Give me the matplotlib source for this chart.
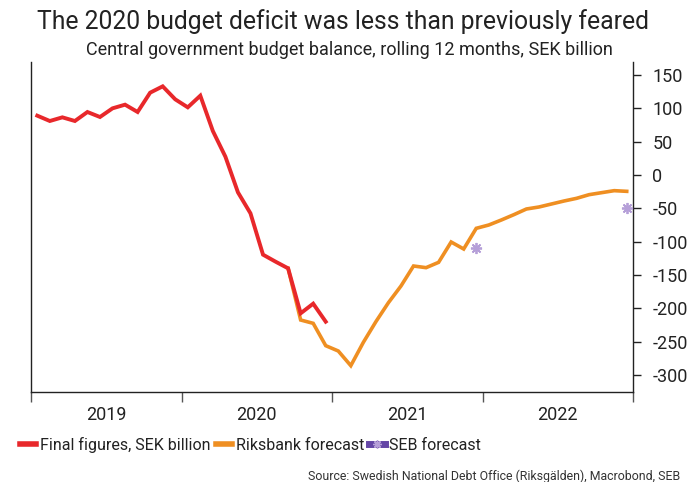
import matplotlib
matplotlib.use("Agg")
import matplotlib.pyplot as plt
from matplotlib.lines import Line2D
from matplotlib.legend_handler import HandlerTuple
import numpy as np

plt.rcParams['font.family'] = ['Roboto', 'DejaVu Sans']

years = ["2019", "2020", "2021", "2022"]

# Final figures Jan 2019 .. Dec 2020
final_vals = [89, 81, 86.5, 81, 94.5, 87, 100, 105.5, 94.5, 123.5, 133, 113.5,
              101.5, 119, 66, 27.5, -26, -57.5, -119.5, -130, -140, -207.5, -193, -220]
# Riksbank forecast Sep 2020 .. Dec 2022
riks_vals = [-140, -217.5, -222.5, -256, -264, -286, -251, -220, -191.5, -166.5,
             -136.5, -139, -131, -100.5, -111, -80, -75, -67.5, -59.5, -51, -48,
             -43.5, -39, -35, -29.5, -26.5, -23.5, -24.5]
# SEB forecast: Dec 2021, Dec 2022
seb_months = [35, 47]
seb_vals = [-110, -50]

def mpos(i):
    return 2019 + (i + 0.5) / 12.0

x_final = [mpos(i) for i in range(len(final_vals))]
x_riks = [mpos(20 + i) for i in range(len(riks_vals))]
x_seb = [mpos(i) for i in seb_months]

RED = '#e8282b'
ORANGE = '#ef8f22'
PURPLE_L = '#b59fd8'
PURPLE_D = '#6446a6'

fig = plt.figure(figsize=(6.87, 4.82), dpi=100)
ax = fig.add_axes([31/687, 1-392/482, (633-31)/687, (392-62)/482])

ax.plot(x_riks, riks_vals, color=ORANGE, lw=2.6, solid_joinstyle='miter', zorder=2)
ax.plot(x_final, final_vals, color=RED, lw=2.8, solid_joinstyle='miter', zorder=3)
ax.plot(x_seb, seb_vals, linestyle='none', marker=(8, 2, 0), markersize=8,
        markeredgewidth=1.3, color=PURPLE_L, zorder=4)

ax.set_xlim(2019.0, 2023.0)
ax.set_ylim(-325.5, 169.5)

ax.yaxis.tick_right()
ax.set_yticks(np.arange(-300, 151, 50))
ax.set_yticklabels([str(v) for v in np.arange(-300, 151, 50)])
ax.tick_params(axis='y', which='major', direction='out', length=6, width=1,
               labelsize=13, colors='#222222', pad=8)

ax.set_xticks([2019, 2020, 2021, 2022, 2023])
ax.set_xticklabels([])
ax.set_xticks([2019.5, 2020.5, 2021.5, 2022.5], minor=True)
ax.set_xticklabels(years, minor=True)
ax.tick_params(axis='x', which='major', direction='out', length=7, width=1, colors='#555555')
ax.tick_params(axis='x', which='minor', length=0, labelsize=13, pad=10, labelcolor='#222222')

ax.spines['top'].set_visible(False)
for s in ['left', 'right', 'bottom']:
    ax.spines[s].set_color('#222222')
    ax.spines[s].set_linewidth(1.0)

fig.text(343/687, 1-22/482, "The 2020 budget deficit was less than previously feared",
         ha='center', va='center', fontsize=17.8, color='#222222')
fig.text(349/687, 1-50/482, "Central government budget balance, rolling 12 months, SEK billion",
         ha='center', va='center', fontsize=13, color='#222222')

h_final = Line2D([], [], color=RED, lw=4)
h_riks = Line2D([], [], color=ORANGE, lw=4)
h_seb_bar = Line2D([], [], color=PURPLE_D, lw=5)
h_seb_star = Line2D([], [], linestyle='none', marker=(8, 2, 0), markersize=6,
                    markeredgewidth=1, color=PURPLE_L)
leg = fig.legend([h_final, h_riks, (h_seb_bar, h_seb_star)],
                 ["Final figures, SEK billion", "Riksbank forecast", "SEB forecast"],
                 handler_map={tuple: HandlerTuple(ndivide=1)},
                 loc='center left', bbox_to_anchor=(14/687, 1-445/482), ncol=3,
                 frameon=False, fontsize=11.5, handlelength=1.0, handletextpad=0.25,
                 columnspacing=0.3, borderaxespad=0, labelcolor='#222222')

fig.text(680/687, 1-476/482, "Source: Swedish National Debt Office (Riksgälden), Macrobond, SEB",
         ha='right', va='center', fontsize=8.9, color='#333333')

fig.savefig("out.png", dpi=100)
